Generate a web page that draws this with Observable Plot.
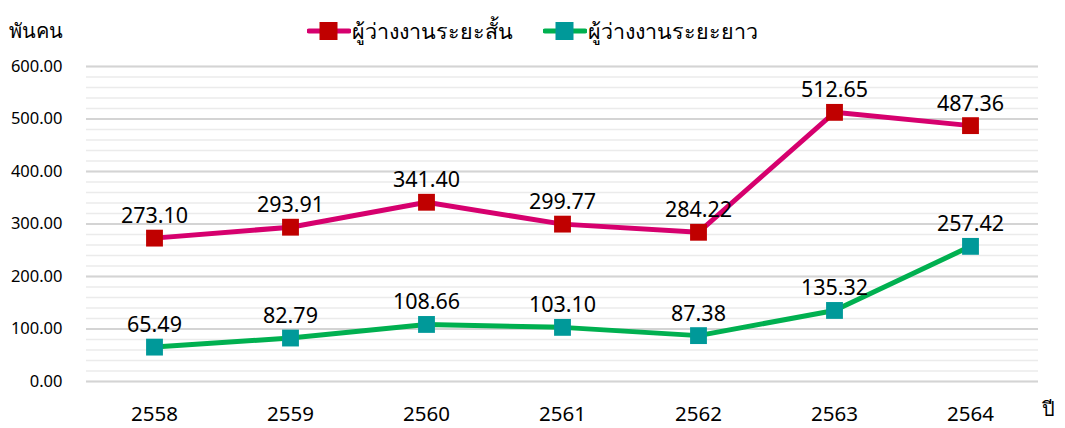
<!DOCTYPE html>
<html><head><meta charset="utf-8">
<script src="https://cdn.jsdelivr.net/npm/d3@7"></script>
<script src="https://cdn.jsdelivr.net/npm/@observablehq/plot@0.6"></script>
<style>
body{margin:0;background:#fff;font-family:"Noto Sans","DejaVu Sans",sans-serif;}
#wrap{position:relative;width:1065px;height:428px;overflow:hidden;}
#chart{position:absolute;top:0;left:0;}
#legend{position:absolute;top:14px;left:0;width:1065px;display:flex;justify-content:center;gap:30px;font-size:21.5px;color:#000;}
#legend .item{display:flex;align-items:center;}
#legend svg{margin-right:1px;}
</style></head>
<body><div id="wrap"><div id="chart"></div><div id="legend"></div></div>
<script>
const years = ["2558","2559","2560","2561","2562","2563","2564"];
const shortTerm = [273.10, 293.91, 341.40, 299.77, 284.22, 512.65, 487.36];
const longTerm = [65.49, 82.79, 108.66, 103.10, 87.38, 135.32, 257.42];
const seriesNames = ["ผู้ว่างงานระยะสั้น", "ผู้ว่างงานระยะยาว"];
const lineColors = ["#D6006E", "#00B050"];
const markerColors = ["#C00000", "#009999"];
const yTicks = [0, 100, 200, 300, 400, 500, 600];
const yUnit = "พันคน";
const xUnit = "ปี";

const data = [];
[shortTerm, longTerm].forEach((arr, s) => arr.forEach((v, i) => data.push({year: years[i], value: v, series: seriesNames[s], s})));

const minor = d3.range(0, 601, 20);
const fmt = d3.format(".2f");

const chart = Plot.plot({
  width: 1065, height: 428,
  marginLeft: 86, marginRight: 27, marginTop: 66, marginBottom: 47,
  style: {fontFamily: '"Noto Sans","DejaVu Sans",sans-serif', background: "#fff", overflow: "visible"},
  x: {type: "point", domain: years, padding: 0.5, label: null},
  y: {domain: [0, 600], label: null},
  marks: [
    Plot.ruleY(minor, {stroke: "#ebebeb", strokeWidth: 1.5}),
    Plot.ruleY(yTicks, {stroke: "#d4d4d4", strokeWidth: 2}),
    Plot.axisY(yTicks, {tickSize: 0, tickPadding: 24, tickFormat: fmt, fontSize: 16.5, fill: "#000", label: null}),
    Plot.axisX({tickSize: 0, tickPadding: 25, fontSize: 20.5, fill: "#000", label: null}),
    Plot.line(data, {x: "year", y: "value", z: "series", stroke: d => lineColors[d.s], strokeWidth: 5}),
    Plot.dot(data, {x: "year", y: "value", symbol: "square", r: 9.5, fill: d => markerColors[d.s], stroke: null}),
    Plot.text(data, {x: "year", y: "value", text: d => fmt(d.value), dy: -22, fontSize: 21.5, fill: "#000"}),
    Plot.text([yUnit], {frameAnchor: "top-left", dx: -78, dy: -43, fontSize: 20, fill: "#000", textAnchor: "start", fontWeight: 400}),
    Plot.text([xUnit], {frameAnchor: "bottom-right", dx: 16, dy: 34, fontSize: 20, fill: "#000"})
  ]
});
document.getElementById("chart").appendChild(chart);

const legend = document.getElementById("legend");
seriesNames.forEach((name, s) => {
  const it = document.createElement("div");
  it.className = "item";
  it.innerHTML = `<svg width="44" height="20"><line x1="2" y1="10" x2="42" y2="10" stroke="${lineColors[s]}" stroke-width="5" stroke-linecap="round"/><rect x="12.5" y="1" width="18" height="18" fill="${markerColors[s]}"/></svg><span>${name}</span>`;
  legend.appendChild(it);
});
</script></body></html>
